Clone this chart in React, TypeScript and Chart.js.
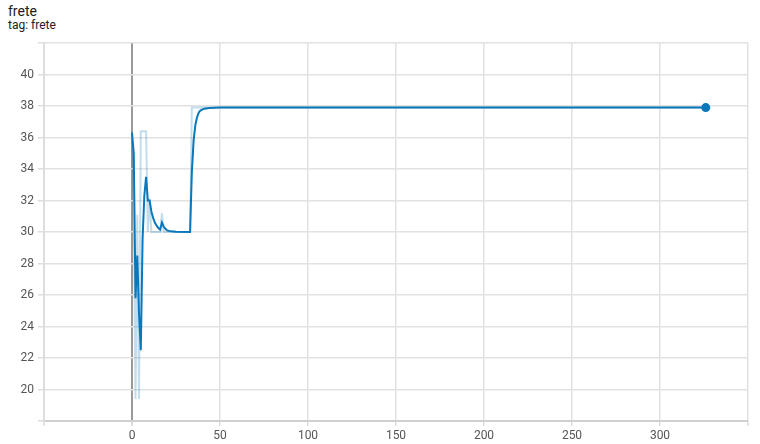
import React, { useEffect, useRef } from "react";
import { Chart, registerables } from "chart.js";

Chart.register(...registerables);

const rawSteps = [0, 1, 2, 3, 4, 5, 6, 7, 8, 9, 10, 11, 16, 17, 18, 33, 34, 326];
const rawValues = [36.4, 31.1, 19.4, 31.1, 19.4, 36.4, 36.4, 36.4, 36.4, 30, 32.1, 30, 30, 31.2, 30, 30, 37.9, 37.9];

const smoothSteps = [0, 1, 2, 3, 4, 5, 6, 7, 8, 9, 10, 11, 12, 13, 14, 15, 16, 17, 18, 19, 20, 22, 25, 33, 34, 35, 36, 37, 38, 39, 41, 44, 50, 326];
const smoothValues = [36.3, 35.0, 25.8, 28.5, 24.8, 22.5, 29.5, 32.3, 33.5, 32.0, 32.0, 31.3, 30.9, 30.6, 30.4, 30.25, 30.15, 30.6, 30.35, 30.2, 30.1, 30.04, 30.01, 30.0, 33.8, 35.8, 36.8, 37.3, 37.6, 37.72, 37.83, 37.88, 37.9, 37.9];

const xMin = -50;
const xMax = 350;
const xStep = 50;
const yMin = 18;
const yMax = 42;
const yStep = 2;

const title = "frete";
const subtitle = "tag: frete";

export default function App() {
  const ref = useRef<HTMLCanvasElement>(null);
  useEffect(() => {
    if (!ref.current) return;
    const smooth = smoothSteps.map((s, i) => ({ x: s, y: smoothValues[i] }));
    const raw = rawSteps.map((s, i) => ({ x: s, y: rawValues[i] }));
    const lastIdx = smooth.length - 1;
    const chart = new Chart(ref.current, {
      type: "line",
      data: {
        datasets: [
          {
            data: smooth,
            borderColor: "#0b77bb",
            backgroundColor: "#0b77bb",
            borderWidth: 2,
            pointRadius: (c: any) => (c.dataIndex === lastIdx ? 4.5 : 0),
            pointBorderWidth: 0,
            tension: 0,
          },
          {
            data: raw,
            borderColor: "rgba(11,119,187,0.25)",
            borderWidth: 2,
            pointRadius: 0,
            tension: 0,
          },
        ],
      },
      options: {
        animation: false,
        responsive: false,
        maintainAspectRatio: false,
        events: [],
        layout: { padding: { top: 43, right: 12, left: 0, bottom: 0 } },
        plugins: { legend: { display: false }, tooltip: { enabled: false } },
        scales: {
          x: {
            type: "linear",
            min: xMin,
            max: xMax,
            afterFit: (s: any) => {
              s.height = 23;
            },
            ticks: {
              stepSize: xStep,
              autoSkip: false,
              maxRotation: 0,
              padding: 3,
              color: "#555",
              font: { family: "Roboto", size: 12 },
              callback: (v: any) => (v === xMin || v === xMax ? "" : String(v)),
            },
            grid: {
              color: (c: any) => (c.tick && c.tick.value === 0 ? "#999999" : "#e2e2e2"),
              lineWidth: (c: any) => (c.tick && c.tick.value === 0 ? 2 : 1.5),
              tickColor: "#dddddd",
              tickLength: 5,
            },
            border: { color: "#d0d0d0", width: 2 },
          },
          y: {
            type: "linear",
            min: yMin,
            max: yMax,
            afterFit: (s: any) => {
              s.width = 44;
            },
            ticks: {
              stepSize: yStep,
              autoSkip: false,
              padding: 4,
              color: "#555",
              font: { family: "Roboto", size: 12 },
              callback: (v: any) => (v === yMin || v === yMax ? "" : String(v)),
            },
            grid: {
              color: "#e2e2e2",
              lineWidth: 1.5,
              tickColor: "#dddddd",
              tickLength: 6,
            },
            border: { color: "#dddddd", width: 2 },
          },
        },
      },
    } as any);
    return () => chart.destroy();
  }, []);
  return (
    <div style={{ position: "fixed", left: 0, top: 0, width: 760, height: 444, background: "#fff", fontFamily: "Roboto, sans-serif", color: "#212121" }}>
      <div style={{ position: "absolute", left: 8, top: 3, fontSize: 14, lineHeight: "16px" }}>{title}</div>
      <div style={{ position: "absolute", left: 8, top: 18, fontSize: 12, lineHeight: "14px" }}>{subtitle}</div>
      <canvas ref={ref} width={760} height={444} style={{ position: "absolute", left: 0, top: 0 }} />
    </div>
  );
}
